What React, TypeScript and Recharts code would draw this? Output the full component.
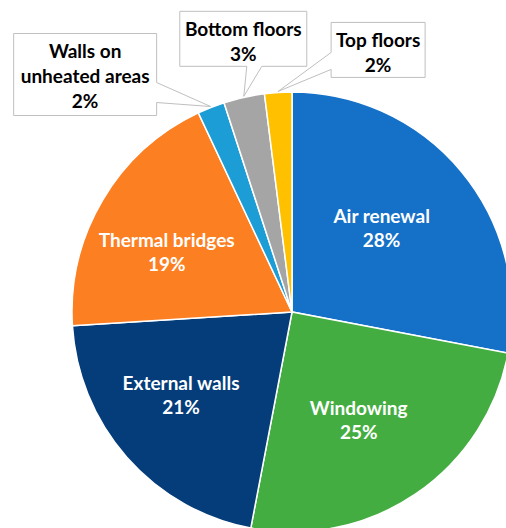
import { PieChart, Pie, Cell } from 'recharts';

const categories = [
  'Air renewal',
  'Windowing',
  'External walls',
  'Thermal bridges',
  'Walls on unheated areas',
  'Bottom floors',
  'Top floors',
];
const shares = [28, 25, 21, 19, 2, 3, 2];
const colors = ['#1570c7', '#44ad41', '#043d7a', '#fc7f22', '#1c9dd6', '#a5a5a5', '#ffc000'];

// label lines as shown on the chart
const labelLines = [
  ['Air renewal'],
  ['Windowing'],
  ['External walls'],
  ['Thermal bridges'],
  ['Walls on', 'unheated areas'],
  ['Bottom floors'],
  ['Top floors'],
];

const data = categories.map((name, i) => ({ name, value: shares[i] }));

const FONT = 'Lato, "DejaVu Sans", sans-serif';
const FS = 19;
const RAD = Math.PI / 180;

// inner label distance as a fraction of the radius, plus a small nudge
const innerR = [0.57, 0.58, 0.63, 0.63];
const nudge = [[-7, -5], [-5, 2], [-7, -9], [-6, 10]];

// callout boxes for the thin slices, offsets from the slice tip
const callouts: Record<number, { dx: number; dy: number; w: number; h: number; side: string; a: number; b: number }> = {
  4: { dx: -197, dy: -73, w: 143, h: 82, side: 'right', a: 49, b: 69 },
  5: { dx: -64, dy: -85, w: 127, h: 55, side: 'bottom', a: 67, b: 82 },
  6: { dx: 53, dy: -69, w: 94, h: 55, side: 'left', a: 30, b: 47 },
};

function calloutPath(x: number, y: number, w: number, h: number, side: string, a: number, b: number, tx: number, ty: number) {
  if (side === 'right')
    return `M${x},${y}H${x + w}V${y + a}L${tx},${ty}L${x + w},${y + b}V${y + h}H${x}Z`;
  if (side === 'bottom')
    return `M${x},${y}H${x + w}V${y + h}H${x + b}L${tx},${ty}L${x + a},${y + h}H${x}Z`;
  return `M${x},${y}H${x + w}V${y + h}H${x}V${y + b}L${tx},${ty}L${x},${y + a}Z`;
}

function renderLabel(props: any) {
  const { cx, cy, midAngle, outerRadius, index, value } = props;
  const lines = [...labelLines[index], `${value}%`];
  const box = callouts[index];

  if (!box) {
    const r = outerRadius * innerR[index];
    const x = cx + r * Math.cos(-midAngle * RAD) + nudge[index][0];
    const y = cy + r * Math.sin(-midAngle * RAD) + nudge[index][1];
    return (
      <text x={x} y={y} fill="#fff" textAnchor="middle" fontFamily={FONT} fontWeight="bold" fontSize={FS}>
        {lines.map((t, i) => (
          <tspan key={i} x={x} y={y - 12 + i * 24} dominantBaseline="central">
            {t}
          </tspan>
        ))}
      </text>
    );
  }

  const tx = cx + (outerRadius + 1) * Math.cos(-midAngle * RAD);
  const ty = cy + (outerRadius + 1) * Math.sin(-midAngle * RAD);
  const bx = tx + box.dx;
  const by = ty + box.dy;
  return (
    <g>
      <path
        d={calloutPath(bx, by, box.w, box.h, box.side, box.a, box.b, tx, ty)}
        fill="#fff"
        stroke="#bfbfbf"
        strokeWidth={1}
      />
      <text textAnchor="middle" fill="#000" fontFamily={FONT} fontWeight="bold" fontSize={FS}>
        {lines.map((t, i) => (
          <tspan key={i} x={bx + box.w / 2} y={by + 17 + i * 25} dominantBaseline="central">
            {t}
          </tspan>
        ))}
      </text>
    </g>
  );
}

export default function App() {
  return (
    <div style={{ width: 506, height: 528, overflow: 'hidden', background: '#fff' }}>
      <style>{'body{margin:0}'}</style>
      <PieChart width={506} height={528} margin={{ top: 0, right: 0, bottom: 0, left: 0 }}>
        <Pie
          data={data}
          dataKey="value"
          nameKey="name"
          cx={292}
          cy={312}
          outerRadius={220}
          startAngle={90}
          endAngle={-270}
          stroke="#fff"
          strokeWidth={1.5}
          labelLine={false}
          label={renderLabel}
          isAnimationActive={false}
        >
          {data.map((d, i) => (
            <Cell key={d.name} fill={colors[i]} />
          ))}
        </Pie>
      </PieChart>
    </div>
  );
}
